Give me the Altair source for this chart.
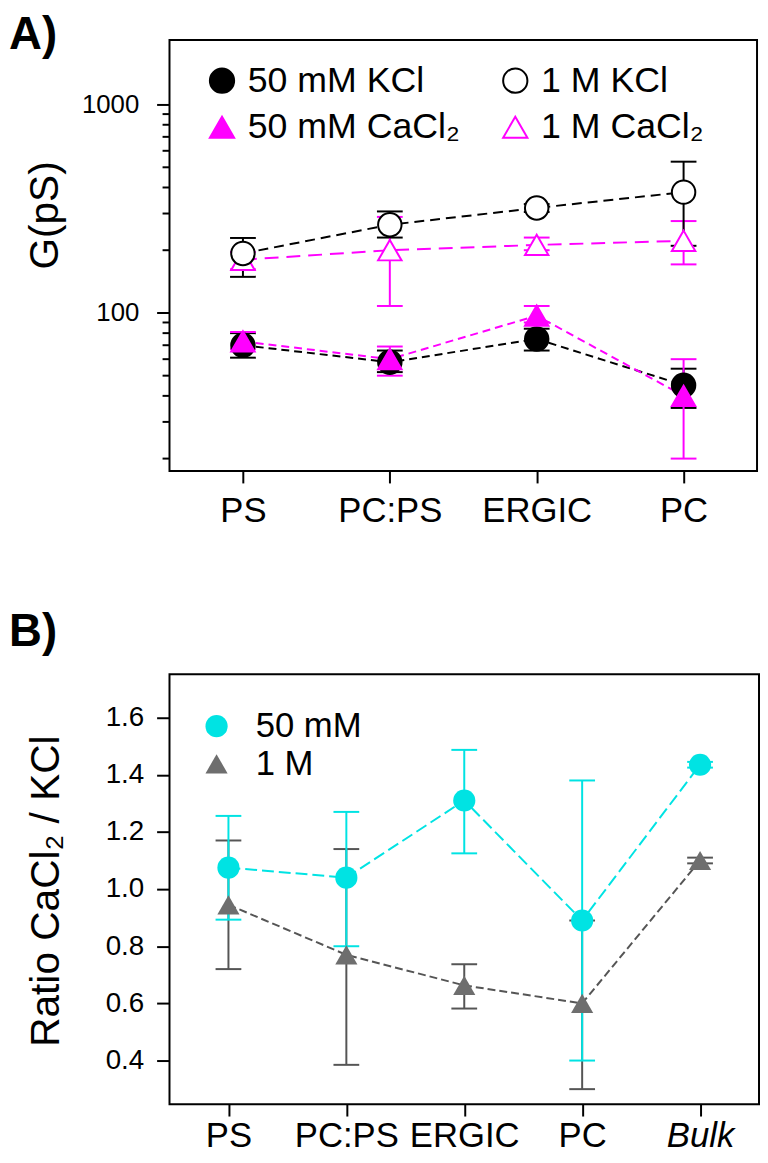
import altair as alt
import pandas as pd

FONT = "Liberation Sans, Arial, sans-serif"
MAG = "#FF00FF"
CYAN = "#00E3E3"
GRAY_FILL = "#6E6E6E"
GRAY_LINE = "#555555"

# ---------------- Panel A data ----------------
cats_a = ["PS", "PC:PS", "ERGIC", "PC"]
# legend order (column-major): 50 mM KCl, 50 mM CaCl2 | 1 M KCl, 1 M CaCl2
series_a = ["50 mM KCl", "50 mM CaCl₂", "1 M KCl", "1 M CaCl₂"]

kcl50 = [70, 58, 75, 45]
kcl50_lo = [61, 52, 66, 35]
kcl50_hi = [80, 66, 84, 54]

cacl50 = [73, 60, 97, 40]
cacl50_lo = [67, 50, 90, 20]
cacl50_hi = [81, 69, 108, 60]

kcl1m = [193, 265, 319, 380]
kcl1m_lo = [149, 230, 305, 210]
kcl1m_hi = [229, 307, 333, 532]

cacl1m = [180, 200, 212, 222]
cacl1m_lo = [162, 108, 200, 171]
cacl1m_hi = [196, 289, 230, 276]

minor_ticks_a = [20, 30, 40, 50, 60, 70, 80, 90, 200, 300, 400, 500, 600, 700, 800, 900]
major_ticks_a = [100, 1000]

# ---------------- Panel B data ----------------
cats_b = ["PS", "PC:PS", "ERGIC", "PC", "Bulk"]
series_b = ["50 mM", "1 M"]

r50 = [1.075, 1.04, 1.31, 0.89, 1.435]
r50_lo = [0.893, 0.80, 1.125, 0.40, 1.425]
r50_hi = [1.256, 1.27, 1.487, 1.38, 1.445]

r1m = [0.945, 0.77, 0.663, 0.60, 1.10]
r1m_lo = [0.72, 0.385, 0.582, 0.30, 1.09]
r1m_hi = [1.17, 1.14, 0.737, 0.89, 1.11]

ticks_b = [0.4, 0.6, 0.8, 1.0, 1.2, 1.4, 1.6]

panel_labels = ["A)", "B)"]
y_titles = ["G(pS)", "Ratio CaCl₂ / KCl"]

# ---------------- styles (not data) ----------------
style_a = {
    "50 mM KCl": dict(color="black", fill="black", shape="circle", dash=[8, 5]),
    "50 mM CaCl₂": dict(color=MAG, fill=MAG, shape="triangle-up", dash=[8, 5]),
    "1 M KCl": dict(color="black", fill="white", shape="circle", dash=[10, 6]),
    "1 M CaCl₂": dict(color=MAG, fill="white", shape="triangle-up", dash=[14, 8]),
}
draw_order_a = ["1 M CaCl₂", "1 M KCl", "50 mM KCl", "50 mM CaCl₂"]
style_b = {
    "50 mM": dict(color=CYAN, fill=CYAN, shape="circle", dash=[12, 5]),
    "1 M": dict(color=GRAY_LINE, fill=GRAY_FILL, shape="triangle-up", dash=[8, 4]),
}
draw_order_b = ["1 M", "50 mM"]

# ---------------- tables ----------------
rows = []
for s, v, lo, hi in [
    ("50 mM KCl", kcl50, kcl50_lo, kcl50_hi),
    ("1 M KCl", kcl1m, kcl1m_lo, kcl1m_hi),
    ("50 mM CaCl₂", cacl50, cacl50_lo, cacl50_hi),
    ("1 M CaCl₂", cacl1m, cacl1m_lo, cacl1m_hi),
]:
    for c, a, b, d in zip(cats_a, v, lo, hi):
        rows.append({"cat": c, "series": s, "g": a, "lo": b, "hi": d,
                     "z": draw_order_a.index(s)})
df_a = pd.DataFrame(rows)
caps_a = pd.concat([
    df_a[["cat", "series", "lo"]].rename(columns={"lo": "cap"}),
    df_a[["cat", "series", "hi"]].rename(columns={"hi": "cap"}),
])
df_minor = pd.DataFrame({"m": minor_ticks_a})

rows = []
for s, v, lo, hi in [("1 M", r1m, r1m_lo, r1m_hi), ("50 mM", r50, r50_lo, r50_hi)]:
    for c, a, b, d in zip(cats_b, v, lo, hi):
        rows.append({"cat": c, "series": s, "r": a, "lo": b, "hi": d,
                     "z": draw_order_b.index(s)})
df_b = pd.DataFrame(rows)
caps_b = pd.concat([
    df_b[["cat", "series", "lo"]].rename(columns={"lo": "cap"}),
    df_b[["cat", "series", "hi"]].rename(columns={"hi": "cap"}),
])

# ---------------- Panel A ----------------
scale_ya = alt.Scale(type="log", domain=[17.43, 2040], nice=False)
axis_ya = alt.Axis(
    values=major_ticks_a, format="d", tickSize=13, tickWidth=2, tickColor="black",
    domain=False, grid=False, labelFontSize=26, labelFont=FONT, labelColor="black",
    labelPadding=18, title=None,
)
scale_xa = alt.Scale(type="point", padding=0.5)
axis_xa = alt.Axis(
    labelAngle=0, tickSize=12, tickWidth=2, tickColor="black", domain=False,
    labelFontSize=35, labelFont=FONT, labelColor="black", labelPadding=11, title=None,
)

def xa():
    return alt.X("cat:N", sort=cats_a, scale=scale_xa, axis=axis_xa)

def ya(field):
    return alt.Y(field, scale=scale_ya, axis=axis_ya)

leg_a = alt.Legend(
    title=None, orient="none", legendX=35, legendY=23, columns=2,
    labelFontSize=36, labelFont=FONT, labelColor="black", labelLimit=400,
    symbolSize=600, symbolStrokeWidth=2, rowPadding=11, columnPadding=37,
    labelOffset=8,
)

layers_a = []
for s in draw_order_a:
    st = style_a[s]
    layers_a.append(
        alt.Chart(df_a).transform_filter(alt.datum.series == s).mark_line(
            strokeWidth=2, color=st["color"], strokeDash=st["dash"]
        ).encode(x=xa(), y=ya("g:Q"))
    )
for s in draw_order_a:
    st = style_a[s]
    layers_a.append(
        alt.Chart(df_a).transform_filter(alt.datum.series == s).mark_rule(
            strokeWidth=2, color=st["color"]
        ).encode(x=xa(), y=ya("lo:Q"), y2="hi:Q")
    )
    layers_a.append(
        alt.Chart(caps_a).transform_filter(alt.datum.series == s).mark_point(
            shape="stroke", filled=False, size=676, strokeWidth=2, opacity=1,
            color=st["color"]
        ).encode(x=xa(), y=ya("cap:Q"))
    )
layers_a.append(
    alt.Chart(df_minor).mark_rule(color="black", strokeWidth=2).encode(
        y=ya("m:Q"), x=alt.value(-7), x2=alt.value(0),
    )
)
layers_a.append(
    alt.Chart(df_a).mark_point(filled=False, size=560, strokeWidth=2, opacity=1).encode(
        x=xa(), y=ya("g:Q"),
        color=alt.Color("series:N", scale=alt.Scale(domain=series_a, range=[style_a[s]["color"] for s in series_a]), legend=leg_a),
        fill=alt.Fill("series:N", scale=alt.Scale(domain=series_a, range=[style_a[s]["fill"] for s in series_a]), legend=leg_a),
        shape=alt.Shape("series:N", scale=alt.Scale(domain=series_a, range=[style_a[s]["shape"] for s in series_a]), legend=leg_a),
        order=alt.Order("z:Q"),
    )
)
layers_a.append(
    alt.Chart(pd.DataFrame({"t": [panel_labels[0]]})).mark_text(
        fontSize=46, fontWeight="bold", font=FONT, align="left", baseline="alphabetic",
        color="black",
    ).encode(text="t:N", x=alt.value(-162), y=alt.value(9))
)
layers_a.append(
    alt.Chart(pd.DataFrame({"t": [y_titles[0]]})).mark_text(
        fontSize=41, font=FONT, align="center", baseline="bottom", angle=270,
        color="black",
    ).encode(text="t:N", x=alt.value(-104), y=alt.value(177))
)

panel_a = alt.layer(*layers_a).properties(width=593, height=435)

# ---------------- Panel B ----------------
scale_yb = alt.Scale(domain=[0.2475, 1.752], nice=False, zero=False)
axis_yb = alt.Axis(
    values=ticks_b, format=".1f", tickSize=13, tickWidth=2, tickColor="black",
    domain=False, grid=False, labelFontSize=28, labelFont=FONT, labelColor="black",
    labelPadding=13, title=None,
)
scale_xb = alt.Scale(type="point", padding=0.5)
axis_xb = alt.Axis(
    labelAngle=0, tickSize=12, tickWidth=2, tickColor="black", domain=False,
    labelFontSize=35, labelFont=FONT, labelColor="black", labelPadding=3, title=None,
    labelFontStyle={"condition": {"test": "datum.value == 'Bulk'", "value": "italic"},
                    "value": "normal"},
)

def xb():
    return alt.X("cat:N", sort=cats_b, scale=scale_xb, axis=axis_xb)

def yb(field):
    return alt.Y(field, scale=scale_yb, axis=axis_yb)

leg_b = alt.Legend(
    title=None, orient="none", legendX=30, legendY=35,
    labelFontSize=35, labelFont=FONT, labelColor="black", labelLimit=400,
    symbolSize=500, rowPadding=2, labelOffset=22,
)

layers_b = []
for s in draw_order_b:
    st = style_b[s]
    layers_b.append(
        alt.Chart(df_b).transform_filter(alt.datum.series == s).mark_rule(
            strokeWidth=2, color=st["color"]
        ).encode(x=xb(), y=yb("lo:Q"), y2="hi:Q")
    )
    layers_b.append(
        alt.Chart(caps_b).transform_filter(alt.datum.series == s).mark_point(
            shape="stroke", filled=False, size=676, strokeWidth=2, opacity=1,
            color=st["color"]
        ).encode(x=xb(), y=yb("cap:Q"))
    )
for s in draw_order_b:
    st = style_b[s]
    layers_b.append(
        alt.Chart(df_b).transform_filter(alt.datum.series == s).mark_line(
            strokeWidth=2, color=st["color"], strokeDash=st["dash"]
        ).encode(x=xb(), y=yb("r:Q"))
    )
layers_b.append(
    alt.Chart(df_b).mark_point(filled=True, size=500, opacity=1).encode(
        x=xb(), y=yb("r:Q"),
        color=alt.Color("series:N", scale=alt.Scale(domain=series_b, range=[style_b[s]["fill"] for s in series_b]), legend=leg_b),
        shape=alt.Shape("series:N", scale=alt.Scale(domain=series_b, range=[style_b[s]["shape"] for s in series_b]), legend=leg_b),
        order=alt.Order("z:Q"),
    )
)
layers_b.append(
    alt.Chart(pd.DataFrame({"t": [panel_labels[1]]})).mark_text(
        fontSize=46, fontWeight="bold", font=FONT, align="left", baseline="alphabetic",
        color="black",
    ).encode(text="t:N", x=alt.value(-162), y=alt.value(-28))
)
layers_b.append(
    alt.Chart(pd.DataFrame({"t": [y_titles[1]]})).mark_text(
        fontSize=41, font=FONT, align="center", baseline="bottom", angle=270,
        color="black",
    ).encode(text="t:N", x=alt.value(-103), y=alt.value(219))
)

panel_b = alt.layer(*layers_b).properties(width=595, height=434)

chart = alt.vconcat(panel_a, panel_b, spacing=80).resolve_scale(
    color="independent", shape="independent", fill="independent",
).configure_view(
    stroke="black", strokeWidth=2
).properties(
    padding={"left": 0, "top": -2, "right": 0, "bottom": -3}
)

chart.save("out.html", embed_options={"renderer": "svg", "actions": False})
